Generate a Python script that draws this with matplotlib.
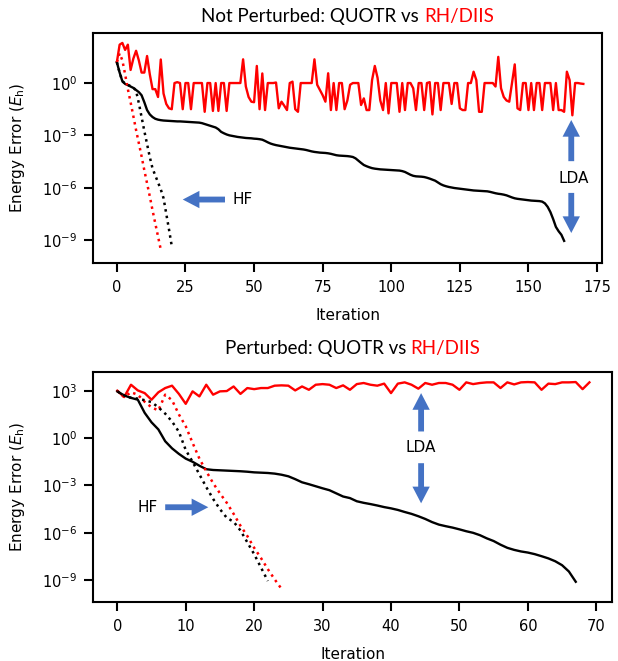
import numpy as np
import matplotlib
matplotlib.use("Agg")
import matplotlib.pyplot as plt

plt.rcParams["font.family"] = ["DejaVu Sans"]
plt.rcParams["mathtext.fontset"] = "dejavusans"

# log10 of energy error

# Not perturbed
rh_lda_top = [
    1.2, 2.2, 2.3, 1.9, 2.2, 0.75, 1.4, 1.85, 1.3, 0.6,
    0.6, 1.55, 0.5, -0.35, -0.35, -0.8, 1.35, -0.6, -1.2, -1.45,
    -1.5, 0.0, 0.05, 0.0, -1.5, 0.0, 0.0, -1.5, 0.0, 0.0,
    0.0, 0.0, -1.65, 0.0, 0.0, -1.6, 0.0, -1.6, 0.0, 0.0,
    -1.6, 0.0, 0.0, 0.0, 0.0, 0.0, 1.36, -0.2, -0.8, -1.07,
    -1.1, 0.98, -1.5, 0.55, -1.55, 0.0, 0.0, 0.0, 0.03, -1.45,
    -1.07, -1.3, -1.55, 0.0, 0.08, -1.5, -1.65, 0.0, 0.0, 0.0,
    0.0, 0.0, 1.36, -0.1, -0.4, -0.7, -1.07, 0.56, -1.55, 0.0,
    -1.55, 0.0, 0.0, -1.5, -1.0, -0.1, 0.0, 0.0, 0.0, -1.26,
    -0.88, -1.55, -1.55, 0.17, 0.98, 0.3, -1.0, -1.55, 0.0, -1.74,
    0.0, 0.0, 0.0, -1.65, 0.0, -1.55, 0.0, 0.0, -0.3, -1.55,
    0.0, 0.0, -1.55, 0.0, 0.05, -1.8, 0.0, 0.0, -1.55, 0.0,
    0.0, 0.0, -1.2, 0.0, 0.0, -1.45, -1.55, -1.55, 0.0, 0.0,
    0.65, 0.17, -1.65, -1.65, 0.0, 0.0, 0.0, 0.0, -0.2, 1.5,
    -0.3, -0.8, -1.0, -1.07, 0.0, 1.07, -1.45, -1.55, 0.0, 0.0,
    -1.55, 0.0, -1.55, 0.0, 0.0, -1.55, 0.0, 0.0, 0.0, -1.55,
    0.0, -1.55, -1.55, -1.65, 0.65, 0.17, -1.85, 0.0, 0.0, -0.03,
    -0.05,
]
quotr_lda_top = [
    1.19, 0.6, 0.1, -0.05, -0.12, -0.2, -0.28, -0.4, -0.52, -0.7,
    -1.1, -1.55, -1.8, -1.95, -2.05, -2.1, -2.13, -2.15, -2.16, -2.17,
    -2.18, -2.19, -2.2, -2.2, -2.21, -2.22, -2.23, -2.24, -2.25, -2.26,
    -2.27, -2.3, -2.35, -2.4, -2.45, -2.5, -2.55, -2.65, -2.8, -2.88,
    -2.95, -3.0, -3.03, -3.06, -3.09, -3.11, -3.13, -3.15, -3.16, -3.17,
    -3.19, -3.2, -3.22, -3.25, -3.32, -3.4, -3.47, -3.52, -3.56, -3.59,
    -3.62, -3.65, -3.68, -3.71, -3.73, -3.75, -3.77, -3.79, -3.81, -3.84,
    -3.88, -3.92, -3.95, -3.97, -3.99, -4.0, -4.01, -4.03, -4.06, -4.1,
    -4.14, -4.16, -4.17, -4.18, -4.19, -4.21, -4.24, -4.32, -4.45, -4.58,
    -4.7, -4.77, -4.83, -4.88, -4.91, -4.93, -4.95, -4.96, -4.97, -4.98,
    -4.99, -5.0, -5.01, -5.02, -5.05, -5.1, -5.18, -5.26, -5.32, -5.35,
    -5.36, -5.37, -5.39, -5.43, -5.48, -5.54, -5.6, -5.7, -5.8, -5.87,
    -5.92, -5.96, -5.99, -6.02, -6.04, -6.06, -6.08, -6.1, -6.12, -6.14,
    -6.16, -6.17, -6.18, -6.19, -6.2, -6.21, -6.24, -6.28, -6.32, -6.35,
    -6.37, -6.4, -6.44, -6.5, -6.56, -6.61, -6.64, -6.66, -6.68, -6.7,
    -6.72, -6.74, -6.75, -6.76, -6.77, -6.8, -6.9, -7.1, -7.4, -7.8,
    -8.25, -8.5, -8.7, -9.05,
]
rh_hf_top = [1.2, 1.7, 1.3, 0.5, -0.35, -1.1, -1.9, -2.7, -3.45, -4.2,
             -5.0, -5.75, -6.5, -7.3, -8.05, -8.8, -9.55]
quotr_hf_top = [1.19, 0.6, 0.1, -0.02, -0.1, -0.18, -0.25, -0.45, -1.15, -1.95,
                -2.75, -3.5, -4.25, -4.9, -5.3, -5.7, -6.1, -6.6, -7.5, -8.4,
                -9.35]

# Perturbed
rh_lda_bot = [
    3.0, 2.6, 3.38, 3.02, 2.85, 2.43, 2.9, 3.17, 3.32, 2.8,
    2.17, 2.96, 2.64, 3.38, 2.75, 2.96, 2.98, 3.27, 2.8, 3.17,
    3.1, 3.17, 3.17, 3.32, 3.34, 3.32, 3.02, 3.27, 3.06, 3.38,
    3.42, 3.38, 3.17, 3.34, 3.06, 3.42, 3.49, 3.38, 3.32, 3.45,
    2.85, 3.45, 3.53, 3.38, 3.13, 3.49, 3.38, 3.49, 3.49, 3.38,
    3.06, 3.53, 3.42, 3.49, 3.53, 3.53, 3.17, 3.53, 3.4, 3.53,
    3.55, 3.53, 3.06, 3.45, 3.42, 3.53, 3.53, 3.55, 3.1, 3.53,
]
quotr_lda_bot = [
    2.96, 2.7, 2.55, 2.43, 1.6, 1.0, 0.55, -0.2, -0.65, -1.0,
    -1.3, -1.5, -1.75, -1.97, -2.02, -2.04, -2.06, -2.08, -2.1, -2.13,
    -2.17, -2.19, -2.21, -2.25, -2.32, -2.42, -2.6, -2.8, -2.92, -3.05,
    -3.18, -3.3, -3.5, -3.7, -3.8, -4.0, -4.1, -4.18, -4.27, -4.37,
    -4.45, -4.55, -4.68, -4.8, -4.95, -5.12, -5.32, -5.48, -5.58, -5.67,
    -5.78, -5.9, -6.0, -6.15, -6.35, -6.52, -6.75, -6.95, -7.08, -7.18,
    -7.25, -7.35, -7.48, -7.62, -7.8, -8.05, -8.45, -9.1,
]
rh_hf_bot = [3.0, 2.6, 2.9, 2.75, 2.3, 1.95, 1.75, 2.75, 2.4, 1.5,
             0.75, -0.3, -1.3, -2.1, -2.85, -3.5, -4.1, -4.8, -5.55, -6.2,
             -6.95, -7.6, -8.3, -8.95, -9.55]
quotr_hf_bot = [2.96, 2.7, 2.55, 2.5, 2.4, 2.28, 1.95, 1.55, 1.05, 0.4,
                -0.75, -1.5, -2.3, -3.1, -3.85, -4.5, -5.05, -5.3, -5.85, -6.6,
                -7.35, -8.2, -9.05]

blue = "#4472C4"
red = "#FF0000"


def draw_series(ax, vals, color, ls):
    v = 10.0 ** np.array(vals)
    ax.plot(np.arange(len(v)), v, color=color, ls=ls,
            lw=1.7 if ls == "-" else 1.8)


def block_arrow(ax, x, y0, y1):
    ax.annotate("", xy=(x[1], y1), xytext=(x[0], y0),
                arrowprops=dict(arrowstyle="simple,head_length=1.2,head_width=1.25,tail_width=0.42",
                                color=blue, lw=0, shrinkA=0, shrinkB=0,
                                mutation_scale=10))


fig = plt.figure(figsize=(6.18, 6.61), dpi=100)
ax1 = fig.add_axes([0.1505, 0.6021, 0.8236, 0.348])
ax2 = fig.add_axes([0.1505, 0.0893, 0.8398, 0.348])

for vals, c, ls in [(rh_lda_top, red, "-"), (quotr_lda_top, "black", "-"),
                    (rh_hf_top, red, ":"), (quotr_hf_top, "black", ":")]:
    draw_series(ax1, vals, c, ls)
for vals, c, ls in [(rh_lda_bot, red, "-"), (quotr_lda_bot, "black", "-"),
                    (rh_hf_bot, red, ":"), (quotr_hf_bot, "black", ":")]:
    draw_series(ax2, vals, c, ls)

ax1.set_xlim(-8.7, 176.8)
ax1.set_ylim(10 ** -10.32, 10 ** 2.87)
ax2.set_xlim(-3.55, 72.3)
ax2.set_ylim(10 ** -10.38, 10 ** 4.19)

for ax in (ax1, ax2):
    ax.set_yscale("log")
    ax.minorticks_off()
    ax.set_xlabel("Iteration", fontsize=11, labelpad=9)
    ax.set_ylabel(r"Energy Error ($E_\mathrm{h}$)", fontsize=11, labelpad=11)
    ax.tick_params(axis="both", labelsize=10.5, width=1.5, length=6.5)
    ax.tick_params(axis="x", pad=6)
    ax.tick_params(axis="y", pad=5)
    for s in ax.spines.values():
        s.set_linewidth(1.5)
ax1.set_yticks([1e-9, 1e-6, 1e-3, 1e0])
ax2.set_yticks([1e-9, 1e-6, 1e-3, 1e0, 1e3])
ax1.set_xticks([0, 25, 50, 75, 100, 125, 150, 175])
ax2.set_xticks([0, 10, 20, 30, 40, 50, 60, 70])
ax1.minorticks_off()
ax2.minorticks_off()

# annotations top
block_arrow(ax1, (39.4, 24.0), 10 ** -6.68, 10 ** -6.68)
ax1.text(42.0, 10 ** -6.68, "HF", fontsize=11, va="center", ha="left")
block_arrow(ax1, (165.6, 165.6), 10 ** -4.48, 10 ** -2.12)
ax1.text(166.5, 10 ** -5.47, "LDA", fontsize=11, va="center", ha="center")
block_arrow(ax1, (165.6, 165.6), 10 ** -6.3, 10 ** -8.6)

# annotations bottom
block_arrow(ax2, (7.0, 13.3), 10 ** -4.38, 10 ** -4.38)
ax2.text(5.9, 10 ** -4.38, "HF", fontsize=11, va="center", ha="right")
block_arrow(ax2, (44.4, 44.4), 10 ** 0.42, 10 ** 2.85)
ax2.text(44.4, 10 ** -0.6, "LDA", fontsize=11, va="center", ha="center")
block_arrow(ax2, (44.4, 44.4), 10 ** -1.59, 10 ** -4.13)


def two_color_title(ax, y, first, second):
    fig.canvas.draw()
    r = fig.canvas.get_renderer()
    kw = dict(fontsize=13.5, family="Lato", va="baseline")
    t1 = fig.text(0, y, first, color="black", **kw)
    t2 = fig.text(0, y, second, color=red, **kw)
    probe = fig.text(0, 0, "vs R", **kw)
    probe2 = fig.text(0, 0, "vsR", **kw)
    gap = probe.get_window_extent(r).width - probe2.get_window_extent(r).width
    probe.remove()
    probe2.remove()
    w1 = t1.get_window_extent(r).width
    w2 = t2.get_window_extent(r).width
    bb = ax.get_position()
    W = fig.bbox.width
    x0 = (bb.x0 + bb.x1) / 2 * W - (w1 + gap + w2) / 2
    t1.set_x(x0 / W)
    t2.set_x((x0 + w1 + gap) / W)


two_color_title(ax1, 0.967, "Not Perturbed: QUOTR vs", "RH/DIIS")
two_color_title(ax2, 0.465, "Perturbed: QUOTR vs", "RH/DIIS")

fig.savefig("out.png", dpi=100)
